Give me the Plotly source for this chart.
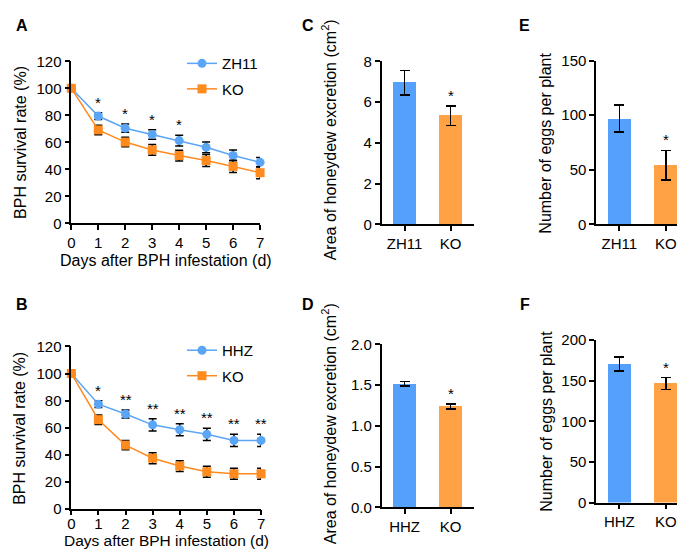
import plotly.graph_objects as go

# ---------------- data ----------------
days = [0, 1, 2, 3, 4, 5, 6, 7]

a_zh11 = [100, 79.5, 70.5, 65.8, 61.3, 56.3, 50.3, 45.2]
a_zh11_err = [0, 2.5, 3, 3.5, 4, 4, 4, 3.5]
a_ko = [100, 69.2, 60.2, 54.4, 50.2, 46.6, 42.2, 37.5]
a_ko_err = [0, 3.5, 3.5, 4, 4, 4.5, 4.5, 4.5]
a_sig = ["", "*", "*", "*", "*", "", "", ""]

b_hhz = [100, 77.3, 70.0, 62.0, 58.4, 55.0, 50.5, 50.5]
b_hhz_err = [0, 2.5, 3, 4.5, 4.5, 4.5, 4.5, 4.5]
b_ko = [100, 65.8, 47.0, 37.3, 31.5, 27.3, 25.8, 25.8]
b_ko_err = [0, 3.5, 3.5, 4, 4, 4, 4, 4]
b_sig = ["", "*", "**", "**", "**", "**", "**", "**"]

cats_top = ["ZH11", "KO"]
cats_bot = ["HHZ", "KO"]

c_vals = [6.95, 5.33]
c_err = [0.6, 0.47]
c_sig = ["", "*"]

d_vals = [1.515, 1.237]
d_err = [0.026, 0.03]
d_sig = ["", "*"]

e_vals = [97, 54.3]
e_err = [12.5, 13.5]
e_sig = ["", "*"]

f_vals = [170.5, 146.5]
f_err = [8.8, 7.2]
f_sig = ["", "*"]

# ---------------- style ----------------
W, H = 685, 550
FONT = "Liberation Sans, Arial, sans-serif"
BLUE_L = "#5AA5F5"
ORANGE_L = "#FF8A1E"
BLUE_B = "#55A0FA"
ORANGE_B = "#FFA245"
TICK = 15
TITLE = 16


def px_x(x):
    return x / W


def px_y(y):
    return 1 - y / H


fig = go.Figure()


def line_panel(ax, ctl, ctl_err, ko, ko_err, ctl_name, legend_id):
    xa = "x" if ax == 1 else f"x{ax}"
    ya = "y" if ax == 1 else f"y{ax}"
    fig.add_trace(go.Scatter(
        x=days, y=ctl, name=ctl_name, mode="lines+markers",
        line=dict(color=BLUE_L, width=1.5),
        marker=dict(symbol="circle", size=9, color=BLUE_L),
        error_y=dict(type="data", array=ctl_err, color="black", thickness=1.5, width=4),
        xaxis=xa, yaxis=ya, legend=legend_id, legendgroup=legend_id + "a",
        cliponaxis=False))
    fig.add_trace(go.Scatter(
        x=days, y=ko, name="KO", mode="lines+markers",
        line=dict(color=ORANGE_L, width=1.5),
        marker=dict(symbol="square", size=9, color=ORANGE_L),
        error_y=dict(type="data", array=ko_err, color="black", thickness=1.5, width=4),
        xaxis=xa, yaxis=ya, legend=legend_id, legendgroup=legend_id + "b",
        cliponaxis=False))


def bar_panel(ax, cats, vals, errs):
    xa = f"x{ax}"
    ya = f"y{ax}"
    fig.add_trace(go.Bar(
        x=cats, y=vals, width=0.5,
        marker=dict(color=[BLUE_B, ORANGE_B], line=dict(width=0)),
        error_y=dict(type="data", array=errs, color="black", thickness=1.5, width=5),
        xaxis=xa, yaxis=ya, showlegend=False))


line_panel(1, a_zh11, a_zh11_err, a_ko, a_ko_err, "ZH11", "legend")
line_panel(2, b_hhz, b_hhz_err, b_ko, b_ko_err, "HHZ", "legend2")
bar_panel(3, cats_top, c_vals, c_err)
bar_panel(4, cats_bot, d_vals, d_err)
bar_panel(5, cats_top, e_vals, e_err)
bar_panel(6, cats_bot, f_vals, f_err)

annotations = []


def stars(xref, yref, xs, tops, sig):
    for x, t, s in zip(xs, tops, sig):
        if s:
            annotations.append(dict(x=x, y=t, xref=xref, yref=yref, text=s,
                                    showarrow=False, yanchor="bottom",
                                    font=dict(size=15, color="black", family=FONT)))


stars("x", "y", days, [v + e for v, e in zip(a_zh11, a_zh11_err)], a_sig)
stars("x2", "y2", days, [v + e for v, e in zip(b_hhz, b_hhz_err)], b_sig)
stars("x3", "y3", cats_top, [v + e for v, e in zip(c_vals, c_err)], c_sig)
stars("x4", "y4", cats_bot, [v + e for v, e in zip(d_vals, d_err)], d_sig)
stars("x5", "y5", cats_top, [v + e for v, e in zip(e_vals, e_err)], e_sig)
stars("x6", "y6", cats_bot, [v + e for v, e in zip(f_vals, f_err)], f_sig)


def text_px(x, y, text, size=TITLE, angle=0, bold=False):
    annotations.append(dict(x=px_x(x), y=px_y(y), xref="paper", yref="paper",
                            text=f"<b>{text}</b>" if bold else text,
                            showarrow=False, textangle=angle,
                            xanchor="center", yanchor="middle",
                            font=dict(size=size, color="black", family=FONT)))


# panel letters
text_px(10, 9, "A", 16, bold=True)
text_px(10, 297, "B", 16, bold=True)
text_px(300, 9, "C", 16, bold=True)
text_px(300, 297, "D", 16, bold=True)
text_px(519, 9, "E", 16, bold=True)
text_px(519, 297, "F", 16, bold=True)

# axis titles
text_px(8, 129, "BPH survival rate (%)", angle=-90)
text_px(8, 424, "BPH survival rate (%)", angle=-90)
text_px(156, 251, "Days after BPH infestation (d)")
text_px(156, 540, "Days after BPH infestation (d)", size=15.5)
text_px(321, 127, "Area of honeydew excretion (cm<sup>2</sup>)", angle=-90)
text_px(321, 420, "Area of honeydew excretion (cm<sup>2</sup>)", angle=-90)
text_px(540, 130, "Number of eggs per plant", angle=-90)
text_px(540, 417, "Number of eggs per plant", angle=-90)

axis_common = dict(showline=True, linecolor="black", linewidth=1.5,
                   ticks="outside", ticklen=5, tickwidth=1.5, tickcolor="black",
                   showgrid=False, zeroline=False,
                   tickfont=dict(size=TICK, color="black", family=FONT))

layout = dict(
    width=W, height=H, margin=dict(l=0, r=0, t=0, b=0),
    paper_bgcolor="white", plot_bgcolor="white",
    font=dict(family=FONT, color="black"),
    annotations=annotations,
    legend=dict(x=px_x(172), y=px_y(61), xanchor="left", yanchor="middle",
                bgcolor="rgba(0,0,0,0)", tracegroupgap=3, traceorder="grouped",
                font=dict(size=15, family=FONT, color="black")),
    legend2=dict(x=px_x(172), y=px_y(357), xanchor="left", yanchor="middle",
                 bgcolor="rgba(0,0,0,0)", tracegroupgap=3, traceorder="grouped",
                 font=dict(size=15, family=FONT, color="black")),
    bargap=0,
)

# line panels
layout["xaxis"] = dict(axis_common, domain=[px_x(60), px_x(251)], range=[0, 7],
                       tickvals=days, anchor="y")
layout["yaxis"] = dict(axis_common, domain=[px_y(213), px_y(45.7)], range=[0, 120],
                       tickvals=[0, 20, 40, 60, 80, 100, 120], anchor="x")
layout["xaxis2"] = dict(axis_common, domain=[px_x(60), px_x(252)], range=[0, 7],
                        tickvals=days, anchor="y2", ticklabelstandoff=-4)
layout["yaxis2"] = dict(axis_common, domain=[px_y(507.3), px_y(340)], range=[0, 120],
                        tickvals=[0, 20, 40, 60, 80, 100, 120], anchor="x2")

# bar panels
layout["xaxis3"] = dict(axis_common, domain=[px_x(374), px_x(467)], range=[-0.5, 1.5],
                        type="category", anchor="y3")
layout["yaxis3"] = dict(axis_common, domain=[px_y(214), px_y(45.7)], range=[0, 8],
                        tickvals=[0, 2, 4, 6, 8], anchor="x3")
layout["xaxis4"] = dict(axis_common, domain=[px_x(374), px_x(467)], range=[-0.5, 1.5],
                        type="category", anchor="y4")
layout["yaxis4"] = dict(axis_common, domain=[px_y(506), px_y(337.7)], range=[0, 2],
                        tickvals=[0, 0.5, 1.0, 1.5, 2.0], tickformat=".1f", anchor="x4")
layout["xaxis5"] = dict(axis_common, domain=[px_x(591), 1.0], range=[-0.5, 1.5],
                        type="category", anchor="y5")
layout["yaxis5"] = dict(axis_common, domain=[px_y(214), px_y(45)], range=[0, 150],
                        tickvals=[0, 50, 100, 150], anchor="x5")
layout["xaxis6"] = dict(axis_common, domain=[px_x(591), 1.0], range=[-0.5, 1.5],
                        type="category", anchor="y6")
layout["yaxis6"] = dict(axis_common, domain=[px_y(501), px_y(333.3)], range=[0, 200],
                        tickvals=[0, 50, 100, 150, 200], anchor="x6")

fig.update_layout(**layout)
fig.write_html("out.html")
